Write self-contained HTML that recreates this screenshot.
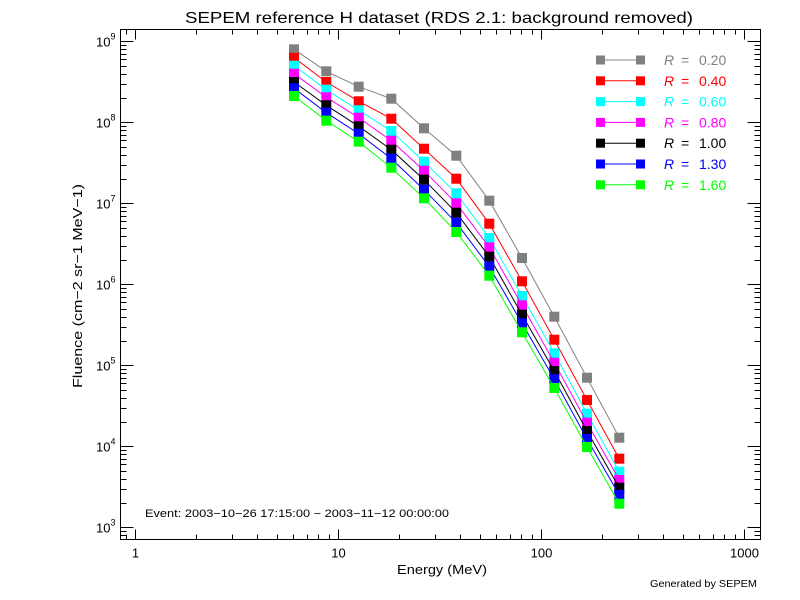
<!DOCTYPE html>
<html><head><meta charset="utf-8"><style>
html,body{margin:0;padding:0;background:#fff;}
svg{display:block;font-family:"Liberation Sans",sans-serif;}
</style></head><body>
<svg id="s" width="800" height="600" xmlns="http://www.w3.org/2000/svg">
<rect width="800" height="600" fill="#fff"/>
<text x="185" y="23" font-size="16" textLength="508" lengthAdjust="spacingAndGlyphs">SEPEM reference H dataset (RDS 2.1: background removed)</text>
<text x="397" y="574" font-size="13" textLength="90" lengthAdjust="spacingAndGlyphs">Energy (MeV)</text>
<text transform="translate(82,388) rotate(-90)" font-size="13" textLength="204" lengthAdjust="spacingAndGlyphs">Fluence (cm−2 sr−1 MeV−1)</text>
<text x="145" y="517" font-size="11" textLength="304" lengthAdjust="spacingAndGlyphs">Event: 2003−10−26 17:15:00 − 2003−11−12 00:00:00</text>
<text x="650" y="587" font-size="10" textLength="107" lengthAdjust="spacingAndGlyphs">Generated by SEPEM</text>
<g id="ax" stroke="#000" stroke-width="1" fill="none"></g>
<g id="lab" font-size="13"></g>
<g id="dat"></g>
<g id="leg" font-size="14"></g>
</svg>
<script>
var NS="http://www.w3.org/2000/svg";
function el(p,t,a,txt){var e=document.createElementNS(NS,t);for(var k in a)e.setAttribute(k,a[k]);if(txt!=null)e.textContent=txt;p.appendChild(e);return e;}
var L=120.5,R=760.5,T=29.5,B=539.5;
var ax=document.getElementById('ax'),lab=document.getElementById('lab');
el(ax,'rect',{x:L,y:T,width:R-L,height:B-T});
function X(v){return 135+203*Math.log10(v);}
function Y(e){return 41.3+(9-e)*81;}
for(var d=0;d<4;d++){for(var m=1;m<10;m++){var v=Math.pow(10,d)*m;var x=Math.round(X(v))+0.5;if(x<L||x>R)continue;var len=m==1?10:5;
el(ax,'line',{x1:x,y1:B,x2:x,y2:B-len});el(ax,'line',{x1:x,y1:T,x2:x,y2:T+len});
if(m==1)el(lab,'text',{x:x,y:B+18,'text-anchor':'middle'},String(v));}}
[0.9].forEach(function(v){var x=Math.round(X(v))+0.5;if(x>L){el(ax,'line',{x1:x,y1:B,x2:x,y2:B-5});el(ax,'line',{x1:x,y1:T,x2:x,y2:T+5});}});
for(var e=2;e<=9;e++){for(var m=1;m<10;m++){var y=Math.round(Y(e+Math.log10(m)))+0.5;if(y<T||y>B)continue;var len=m==1?13:6;
el(ax,'line',{x1:L,y1:y,x2:L+len,y2:y});el(ax,'line',{x1:R,y1:y,x2:R-len,y2:y});
if(m==1&&e>=3){var t=el(lab,'text',{x:96,y:y+5});t.textContent='10';el(t,'tspan',{dy:-7,'font-size':9},String(e));}}}
var xs=[294,326.3,358.7,391.3,424,456.3,489.3,522,554.3,587,619.3];
var S=[
["#808080",[49.3,71.3,86.7,98.7,128.3,155.7,200.7,258,316.7,377.7,437.7]],
["#ff0000",[57.7,82,101.3,118.7,148.7,178.7,223.7,281.3,339.7,400,458.7]],
["#00ffff",[65.7,89.7,110.3,131,161.7,193.3,238,296,353.3,413.7,471.7]],
["#ff00ff",[73.7,97.3,117.7,140.7,170.7,203.3,247.3,305.3,362.7,422.7,480]],
["#000000",[82,105.3,126.3,149.7,179.7,212.7,256.7,314.7,371,431,487.7]],
["#0000ff",[88.3,112.7,133.7,158.7,189.7,222.7,266.7,323.3,379.3,439,495]],
["#00ff00",[96,120.7,141.7,167.7,198.3,232,275.7,332.3,388,447,503.7]]];
var names=["0.20","0.40","0.60","0.80","1.00","1.30","1.60"];
var dat=document.getElementById('dat'),leg=document.getElementById('leg');
S.forEach(function(s,i){var c=s[0],ys=s[1];
el(dat,'polyline',{points:xs.map(function(x,j){return x+','+ys[j];}).join(' '),fill:'none',stroke:c,'stroke-width':1});
xs.forEach(function(x,j){el(dat,'rect',{x:x-5,y:ys[j]-5,width:10,height:10,fill:c});});
var ly=60+i*20.8;
el(leg,'line',{x1:600,y1:ly,x2:640,y2:ly,stroke:c,'stroke-width':1});
el(leg,'rect',{x:596,y:ly-4.5,width:9,height:9,fill:c});
el(leg,'rect',{x:636,y:ly-4.5,width:9,height:9,fill:c});
var t=el(leg,'text',{x:664,y:ly+5,fill:c,'xml:space':'preserve'});
el(t,'tspan',{'font-style':'italic'},'R');
el(t,'tspan',{x:681},'=');
el(t,'tspan',{x:699},names[i]);
});
</script>
</body></html>
